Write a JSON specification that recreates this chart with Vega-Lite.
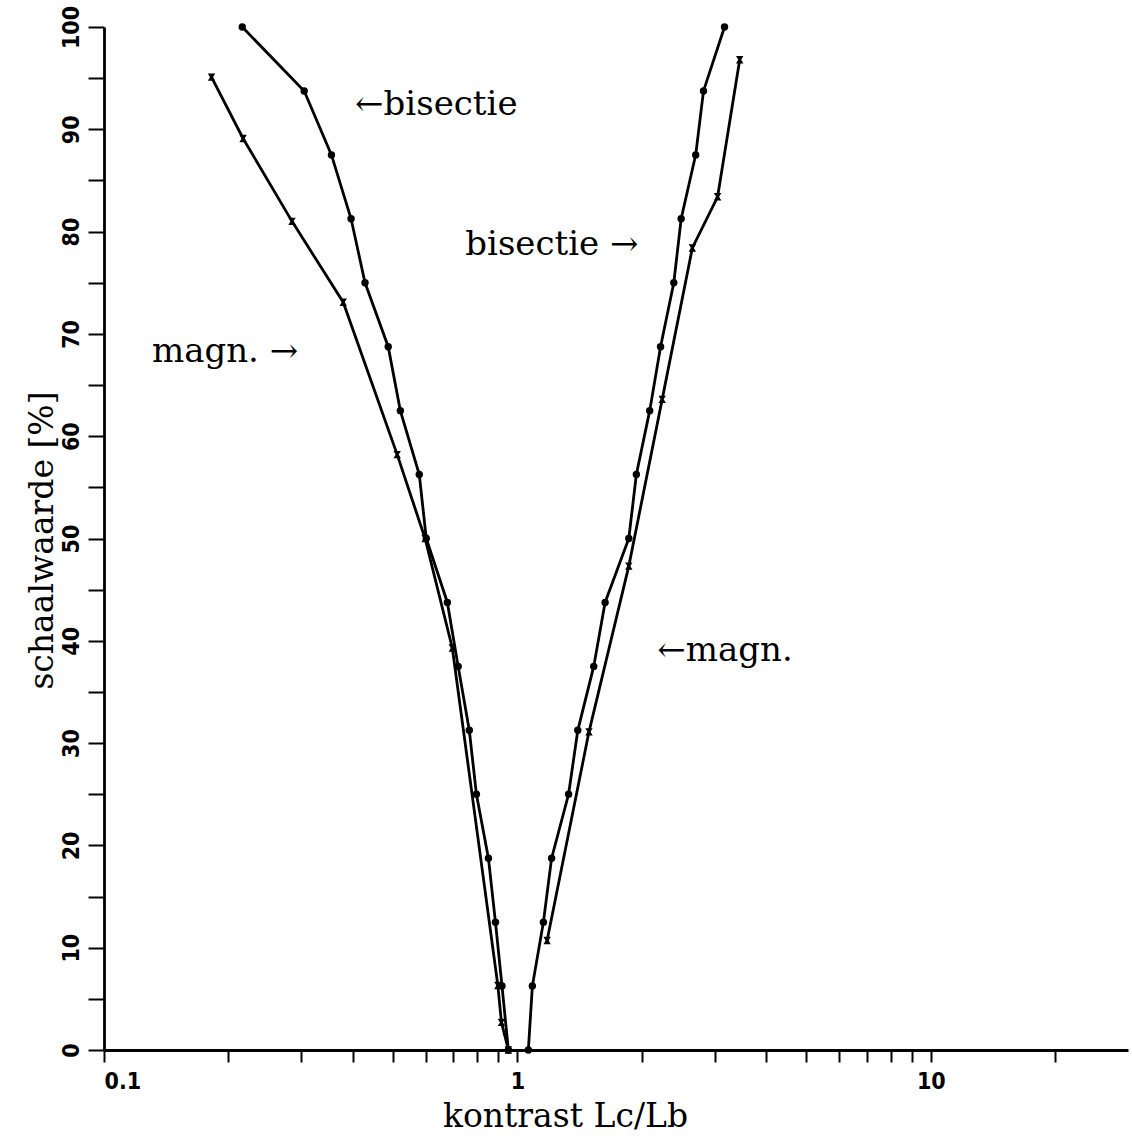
{
  "$schema": "https://vega.github.io/schema/vega-lite/v6.json",
  "width": 1024,
  "height": 1023,
  "autosize": {"type": "none"},
  "padding": {"left": 104, "top": 27, "right": 4, "bottom": 92},
  "background": "white",
  "config": {
    "view": {"stroke": null},
    "axis": {"grid": false, "domainColor": "black", "tickColor": "black", "labelColor": "black", "titleColor": "black"}
  },
  "datasets": {
    "curves": [
      {"series": "bisL", "type": "bisectie", "k": 0.216, "s": 100},
      {"series": "bisL", "type": "bisectie", "k": 0.305, "s": 93.75},
      {"series": "bisL", "type": "bisectie", "k": 0.355, "s": 87.5},
      {"series": "bisL", "type": "bisectie", "k": 0.396, "s": 81.25},
      {"series": "bisL", "type": "bisectie", "k": 0.428, "s": 75},
      {"series": "bisL", "type": "bisectie", "k": 0.487, "s": 68.75},
      {"series": "bisL", "type": "bisectie", "k": 0.521, "s": 62.5},
      {"series": "bisL", "type": "bisectie", "k": 0.579, "s": 56.25},
      {"series": "bisL", "type": "bisectie", "k": 0.602, "s": 50},
      {"series": "bisL", "type": "bisectie", "k": 0.677, "s": 43.75},
      {"series": "bisL", "type": "bisectie", "k": 0.719, "s": 37.5},
      {"series": "bisL", "type": "bisectie", "k": 0.765, "s": 31.25},
      {"series": "bisL", "type": "bisectie", "k": 0.796, "s": 25},
      {"series": "bisL", "type": "bisectie", "k": 0.851, "s": 18.75},
      {"series": "bisL", "type": "bisectie", "k": 0.885, "s": 12.5},
      {"series": "bisL", "type": "bisectie", "k": 0.918, "s": 6.25},
      {"series": "bisL", "type": "bisectie", "k": 0.951, "s": 0},
      {"series": "bisR", "type": "bisectie", "k": 1.063, "s": 0},
      {"series": "bisR", "type": "bisectie", "k": 1.087, "s": 6.25},
      {"series": "bisR", "type": "bisectie", "k": 1.156, "s": 12.5},
      {"series": "bisR", "type": "bisectie", "k": 1.21, "s": 18.75},
      {"series": "bisR", "type": "bisectie", "k": 1.33, "s": 25},
      {"series": "bisR", "type": "bisectie", "k": 1.40, "s": 31.25},
      {"series": "bisR", "type": "bisectie", "k": 1.53, "s": 37.5},
      {"series": "bisR", "type": "bisectie", "k": 1.63, "s": 43.75},
      {"series": "bisR", "type": "bisectie", "k": 1.86, "s": 50},
      {"series": "bisR", "type": "bisectie", "k": 1.94, "s": 56.25},
      {"series": "bisR", "type": "bisectie", "k": 2.09, "s": 62.5},
      {"series": "bisR", "type": "bisectie", "k": 2.22, "s": 68.75},
      {"series": "bisR", "type": "bisectie", "k": 2.39, "s": 75},
      {"series": "bisR", "type": "bisectie", "k": 2.49, "s": 81.25},
      {"series": "bisR", "type": "bisectie", "k": 2.70, "s": 87.5},
      {"series": "bisR", "type": "bisectie", "k": 2.82, "s": 93.75},
      {"series": "bisR", "type": "bisectie", "k": 3.17, "s": 100},
      {"series": "magL", "type": "magn", "k": 0.182, "s": 95.1},
      {"series": "magL", "type": "magn", "k": 0.217, "s": 89.1},
      {"series": "magL", "type": "magn", "k": 0.285, "s": 81.0},
      {"series": "magL", "type": "magn", "k": 0.379, "s": 73.1},
      {"series": "magL", "type": "magn", "k": 0.512, "s": 58.2},
      {"series": "magL", "type": "magn", "k": 0.598, "s": 50},
      {"series": "magL", "type": "magn", "k": 0.696, "s": 39.3},
      {"series": "magL", "type": "magn", "k": 0.897, "s": 6.3},
      {"series": "magL", "type": "magn", "k": 0.915, "s": 2.7},
      {"series": "magL", "type": "magn", "k": 0.951, "s": 0},
      {"series": "magR", "type": "magn", "k": 1.18, "s": 10.7},
      {"series": "magR", "type": "magn", "k": 1.49, "s": 31.1},
      {"series": "magR", "type": "magn", "k": 1.86, "s": 47.3},
      {"series": "magR", "type": "magn", "k": 2.24, "s": 63.6},
      {"series": "magR", "type": "magn", "k": 2.65, "s": 78.4},
      {"series": "magR", "type": "magn", "k": 3.05, "s": 83.4},
      {"series": "magR", "type": "magn", "k": 3.45, "s": 96.8}
    ],
    "notes": [
      {"label": "←bisectie", "k": 0.405, "s": 92.4},
      {"label": "bisectie →", "k": 0.748, "s": 78.7},
      {"label": "magn. →", "k": 0.1306, "s": 68.2},
      {"label": "←magn.", "k": 2.18, "s": 39.0}
    ]
  },
  "layer": [
    {
      "data": {"name": "curves"},
      "mark": {"type": "line", "color": "black", "strokeWidth": 2.8},
      "encoding": {
        "x": {
          "field": "k", "type": "quantitative",
          "scale": {"type": "log", "domain": [0.1, 30], "nice": false},
          "axis": {
            "values": [0.1, 0.2, 0.3, 0.4, 0.5, 0.6, 0.7, 0.8, 0.9, 1, 2, 3, 4, 5, 6, 7, 8, 9, 10, 20],
            "labelExpr": "datum.value == 0.1 ? '0.1' : (datum.value == 1 ? '1' : (datum.value == 10 ? '10' : ''))",
            "labelFont": "DejaVu Sans Condensed, Liberation Sans Narrow, Liberation Sans",
            "labelFontWeight": "bold",
            "labelFontSize": 23,
            "labelPadding": 8,
            "labelFlush": true,
            "tickSize": 12,
            "tickWidth": 2,
            "domainWidth": 2.8,
            "title": "kontrast Lc/Lb",
            "titleFont": "DejaVu Serif",
            "titleFontWeight": "normal",
            "titleFontSize": 33,
            "titleX": 461,
            "titleY": 76,
            "titleBaseline": "alphabetic",
            "titleAnchor": "middle"
          }
        },
        "y": {
          "field": "s", "type": "quantitative",
          "scale": {"domain": [0, 100], "nice": false},
          "axis": {
            "values": [0, 5, 10, 15, 20, 25, 30, 35, 40, 45, 50, 55, 60, 65, 70, 75, 80, 85, 90, 95, 100],
            "labelExpr": "datum.value % 10 == 0 ? datum.label : ''",
            "labelAngle": 270,
            "labelAlign": "center",
            "labelBaseline": "bottom",
            "labelFont": "DejaVu Sans Condensed, Liberation Sans Narrow, Liberation Sans",
            "labelFontWeight": "bold",
            "labelFontSize": 23,
            "labelPadding": 5,
            "tickSize": 16,
            "tickWidth": 2,
            "domainWidth": 2.8,
            "title": "schaalwaarde [%]",
            "titleFont": "DejaVu Serif",
            "titleFontWeight": "normal",
            "titleFontSize": 33,
            "titleAngle": 270,
            "titleX": -52,
            "titleY": 513,
            "titleBaseline": "alphabetic",
            "titleAlign": "center"
          }
        },
        "detail": {"field": "series"}
      }
    },
    {
      "data": {"name": "curves"},
      "mark": {"type": "point", "filled": true, "color": "black", "opacity": 1, "size": 55},
      "encoding": {
        "x": {"field": "k", "type": "quantitative"},
        "y": {"field": "s", "type": "quantitative"},
        "shape": {
          "field": "type", "type": "nominal",
          "scale": {"domain": ["bisectie", "magn"], "range": ["circle", "M-1,-1L1,-1L0.4,0L1,1L-1,1L-0.4,0Z"]},
          "legend": null
        }
      }
    },
    {
      "data": {"name": "notes"},
      "mark": {"type": "text", "font": "DejaVu Serif", "fontSize": 34, "align": "left", "baseline": "middle", "color": "black"},
      "encoding": {
        "x": {"field": "k", "type": "quantitative"},
        "y": {"field": "s", "type": "quantitative"},
        "text": {"field": "label"}
      }
    }
  ]
}
